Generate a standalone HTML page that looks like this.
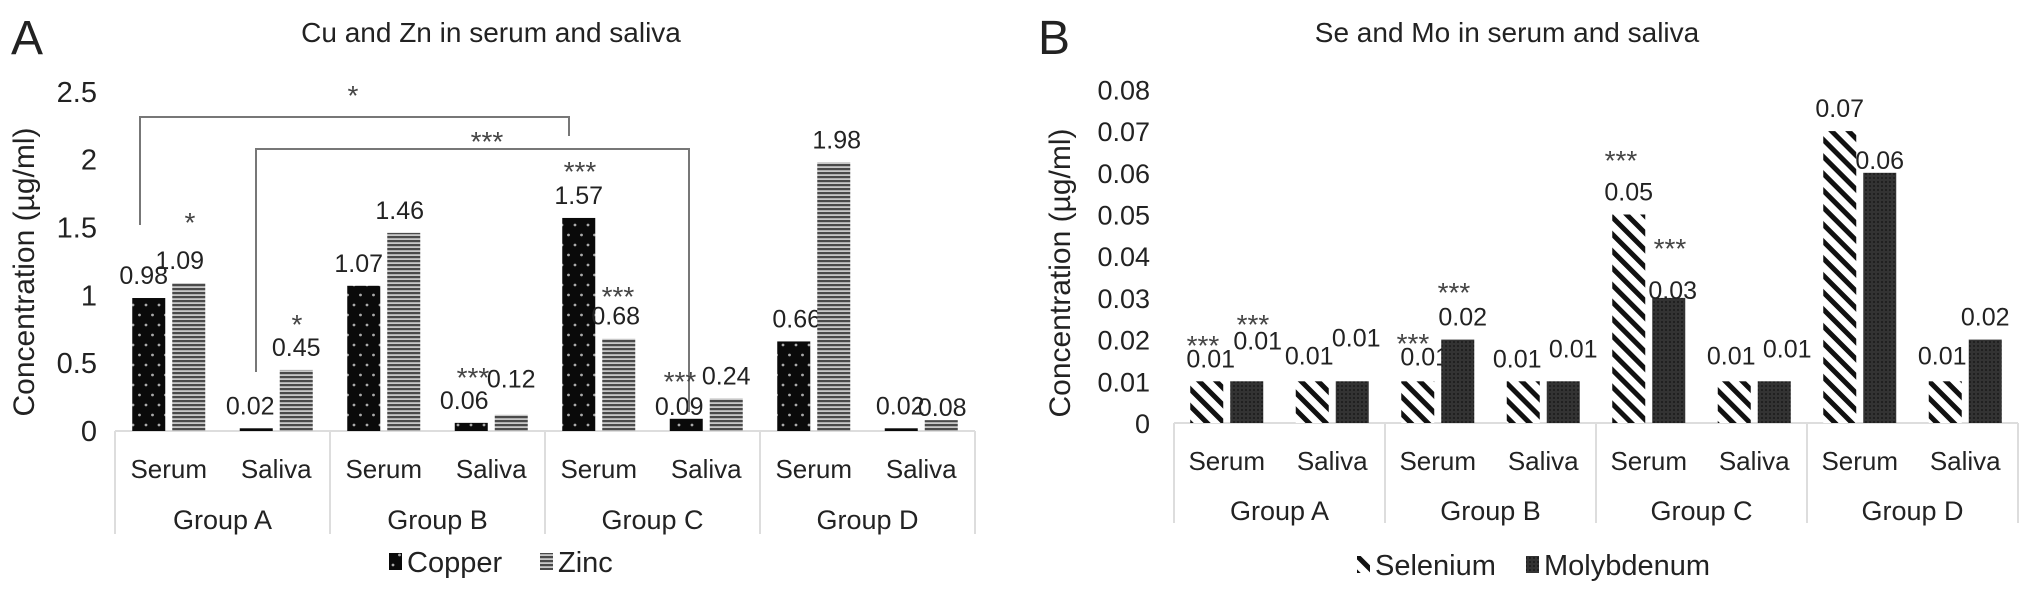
<!DOCTYPE html>
<html><head><meta charset="utf-8"><style>
html,body{margin:0;padding:0;background:#fff;}
svg{display:block;font-family:"Liberation Sans",sans-serif;}
</style></head><body>
<svg id="chart" width="2032" height="592" viewBox="0 0 2032 592" xmlns="http://www.w3.org/2000/svg">
<defs>
<pattern id="pCopper" width="13" height="20" patternUnits="userSpaceOnUse">
<rect width="13" height="20" fill="#0a0a0a"/><circle cx="3" cy="5" r="1.4" fill="#aaa"/><circle cx="9.5" cy="15" r="1.4" fill="#aaa"/></pattern>
<pattern id="pZinc" width="4" height="4" patternUnits="userSpaceOnUse">
<rect width="4" height="4" fill="#c8c8c8"/><rect width="4" height="2.2" fill="#4a4a4a"/></pattern>
<pattern id="pSe" width="12" height="12" patternUnits="userSpaceOnUse" patternTransform="rotate(-45)">
<rect width="12" height="12" fill="#fff"/><rect width="5" height="12" fill="#111"/></pattern>
<pattern id="pMo" width="4" height="4" patternUnits="userSpaceOnUse">
<rect width="4" height="4" fill="#333"/><circle cx="2" cy="2" r="0.9" fill="#111"/></pattern>
</defs>
<g id="gA"></g><g id="gB"></g>
</svg>
<script>
// Panel A data
const groupsA = ["Group A","Group B","Group C","Group D"];
const subsA = ["Serum","Saliva"];
const copperVals = [0.98,0.02,1.07,0.06,1.57,0.09,0.66,0.02];
const zincVals = [1.09,0.45,1.46,0.12,0.68,0.24,1.98,0.08];
const copperLabels = ["0.98","0.02","1.07","0.06","1.57","0.09","0.66","0.02"];
const zincLabels = ["1.09","0.45","1.46","0.12","0.68","0.24","1.98","0.08"];
const ticksA = [0,0.5,1,1.5,2,2.5];
const tickLabelsA = ["0","0.5","1","1.5","2","2.5"];
// Panel B data
const seVals = [0.01,0.01,0.01,0.01,0.05,0.01,0.07,0.01];
const moVals = [0.01,0.01,0.02,0.01,0.03,0.01,0.06,0.02];
const seLabels = ["0.01","0.01","0.01","0.01","0.05","0.01","0.07","0.01"];
const moLabels = ["0.01","0.01","0.02","0.01","0.03","0.01","0.06","0.02"];
const ticksB = [0,0.01,0.02,0.03,0.04,0.05,0.06,0.07,0.08];
const tickLabelsB = ["0","0.01","0.02","0.03","0.04","0.05","0.06","0.07","0.08"];

const NS="http://www.w3.org/2000/svg";
function mk(parent,tag,attrs,text){const e=document.createElementNS(NS,tag);for(const k in attrs)e.setAttribute(k,attrs[k]);if(text!==undefined)e.textContent=text;parent.appendChild(e);return e;}

function panel(g,cfg){
  const yS=v=>cfg.y0-v*cfg.k;
  const sub=cfg.gw/2;
  const xc=i=>cfg.x0+sub*(i+0.5);
  cfg.ticks.forEach((t,i)=>{
    const e=mk(g,'text',{x:cfg.tx,y:yS(t)+10,'text-anchor':'end','font-size':cfg.tfs,fill:'#222'},cfg.tickLabels[i]);
    
    
  });
  const ax=mk(g,'g',{});
  
  
  mk(ax,'line',{x1:cfg.x0,y1:cfg.y0,x2:cfg.x0+4*cfg.gw,y2:cfg.y0,stroke:'#ddd','stroke-width':2});
  for(let j=0;j<=4;j++){mk(ax,'line',{x1:cfg.x0+j*cfg.gw,y1:cfg.y0,x2:cfg.x0+j*cfg.gw,y2:cfg.bottom,stroke:'#ddd','stroke-width':2});}
  for(let i=0;i<8;i++){
    const e=mk(g,'text',{x:xc(i),y:cfg.subY,'text-anchor':'middle','font-size':cfg.fs,fill:'#222'},subsA[i%2]);
    
    
  }
  groupsA.forEach((gname,j)=>{
    const e=mk(g,'text',{x:cfg.x0+(j+0.5)*cfg.gw,y:cfg.grpY,'text-anchor':'middle','font-size':cfg.gfs,fill:'#222'},gname);
    
    
  });
  [0,1].forEach(s=>{
    const vals=cfg.series[s], labs=cfg.labels[s];
    for(let i=0;i<8;i++){
      const cx=xc(i)+(s===0?-20:20);
      const top=yS(vals[i]);
      const b=mk(g,'rect',{x:cx-16.5,y:top,width:33,height:cfg.y0-top,fill:cfg.fills[s]});
      
      
      const nd=cfg.nudge[s][i];
      const t=mk(g,'text',{x:cx+nd[0],y:top-14+nd[1],'text-anchor':'middle','font-size':cfg.vfs,fill:'#222'},labs[i]);
      
      
    }
  });
}

panel(document.getElementById('gA'),{x0:115,gw:215,y0:431,k:135.7,bottom:534,tx:97,tfs:29,fs:26,gfs:27,vfs:25,subY:478,grpY:529,
  ticks:ticksA,tickLabels:tickLabelsA,series:[copperVals,zincVals],labels:[copperLabels,zincLabels],
  fills:['url(#pCopper)','url(#pZinc)'],names:['copper','zinc'],
  nudge:[[[-5,0],[-6,0],[-5,0],[-7,0],[0,0],[-7,10],[3,0],[-1,0]],[[-9,0],[0,0],[-4,0],[0,-13],[-3,0],[0,0],[3,0],[1,10]]]});

panel(document.getElementById('gB'),{x0:1174,gw:211,y0:423,k:4170,bottom:523,tx:1150,tfs:27,fs:26,gfs:27,vfs:25,subY:470,grpY:520,
  ticks:ticksB,tickLabels:tickLabelsB,series:[seVals,moVals],labels:[seLabels,moLabels],
  fills:['url(#pSe)','url(#pMo)'],names:['selenium','molybdenum'],
  nudge:[[[4,0],[-3,-3],[7,-2],[-6,0],[0,0],[-3,-3],[0,0],[-3,-3]],[[11,-18],[4,-21],[5,0],[10,-10],[4,15],[13,-10],[0,10],[0,0]]]});

const root=document.getElementById('chart');
function txt(x,y,s,fs,name,anchor){const e=mk(root,'text',{x:x,y:y,'font-size':fs,fill:'#222','text-anchor':anchor||'middle'},s);return e;}
txt(11,54,'A',48,'panel-label-a','start');
txt(1038,54,'B',48,'panel-label-b','start');
txt(491,42,'Cu and Zn in serum and saliva',28,'chart-title-a');
txt(1507,42,'Se and Mo in serum and saliva',28,'chart-title-b');
let ya=txt(0,0,'Concentration (µg/ml)',30,'y-axis-title-a');ya.setAttribute('transform','translate(34,272) rotate(-90)');
let yb=txt(0,0,'Concentration (µg/ml)',30,'y-axis-title-b');yb.setAttribute('transform','translate(1070,273) rotate(-90)');
let br=mk(root,'polyline',{points:'140,225 140,117 569,117 569,136',fill:'none',stroke:'#777','stroke-width':2});

br=mk(root,'polyline',{points:'256,372 256,149 689,149 689,412',fill:'none',stroke:'#777','stroke-width':2});

const stars=[[353,105,'*'],[487,151,'***'],[190,232,'*'],[297,334,'*'],[473,387,'***'],[580,181,'***'],[618,306,'***'],[680,391,'***'],
 [1203,355,'***'],[1253,334,'***'],[1413,353,'***'],[1454,302,'***'],[1621,170,'***'],[1670,258,'***']];
stars.forEach(s=>{const e=txt(s[0],s[1],s[2],28,'significance-marker');e.setAttribute('fill','#444');});
function leg(x,y,fill,label,name){const g=mk(root,'g',{});
 mk(g,'rect',{x:x,y:y-19,width:13,height:17,fill:fill});
 mk(g,'text',{x:x+18,y:y,'font-size':29,fill:'#222'},label);}
leg(389,572,'url(#pCopper)','Copper','legend-copper');
leg(540,572,'url(#pZinc)','Zinc','legend-zinc');
leg(1357,575,'url(#pSe)','Selenium','legend-selenium');
leg(1526,575,'url(#pMo)','Molybdenum','legend-molybdenum');
</script>
</body></html>
